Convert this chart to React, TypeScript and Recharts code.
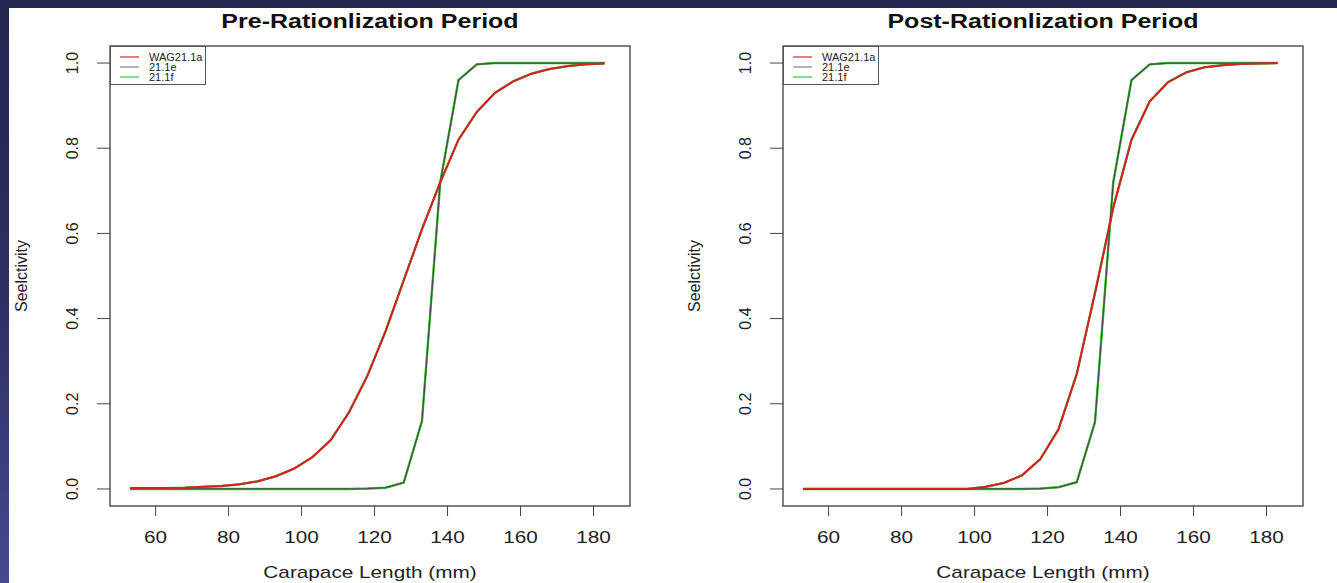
import { Line, LineChart, ReferenceArea, XAxis, YAxis } from 'recharts';

// carapace length classes (mm)
const lengths = [53, 58, 63, 68, 73, 78, 83, 88, 93, 98, 103, 108, 113, 118, 123, 128, 133, 138, 143, 148, 153, 158, 163, 168, 173, 178, 183];

// pre-rationalization selectivity
const preLogistic = [0.002, 0.002, 0.002, 0.003, 0.005, 0.007, 0.011, 0.018, 0.03, 0.048, 0.075, 0.115, 0.18, 0.265, 0.37, 0.49, 0.61, 0.72, 0.82, 0.885, 0.93, 0.957, 0.975, 0.986, 0.993, 0.997, 0.999];
const preKnife = [0, 0, 0, 0, 0, 0, 0, 0, 0, 0, 0, 0, 0, 0.001, 0.003, 0.015, 0.16, 0.72, 0.96, 0.997, 1, 1, 1, 1, 1, 1, 1];

// post-rationalization selectivity
const postLogistic = [0, 0, 0, 0, 0, 0, 0, 0, 0, 0, 0.005, 0.014, 0.032, 0.07, 0.14, 0.27, 0.46, 0.66, 0.82, 0.91, 0.955, 0.978, 0.99, 0.995, 0.998, 0.999, 1];
const postKnife = [0, 0, 0, 0, 0, 0, 0, 0, 0, 0, 0, 0, 0, 0.001, 0.004, 0.016, 0.157, 0.72, 0.96, 0.997, 1, 1, 1, 1, 1, 1, 1];

const yTicks = [0, 0.2, 0.4, 0.6, 0.8, 1];
const xTicks = [60, 80, 100, 120, 140, 160, 180];

const legendItems = [
  { name: 'WAG21.1a', color: '#e0202e' },
  { name: '21.1e', color: '#808080' },
  { name: '21.1f', color: '#33cc33' },
];

const FONT = '"Liberation Sans", Arial, sans-serif';
const X_DOMAIN: [number, number] = [47.5, 190];
const Y_DOMAIN: [number, number] = [-0.04, 1.04];

type Row = { len: number; smooth: number; knife: number };

function YTick({ x, y, payload }: { x?: number; y?: number; payload?: { value: number } }) {
  const tx = (x ?? 0) - 10;
  const ty = y ?? 0;
  return (
    <text
      x={tx}
      y={ty}
      transform={`rotate(-90 ${tx} ${ty})`}
      textAnchor="middle"
      dominantBaseline="central"
      fontSize={16}
      fontFamily={FONT}
      fill="#222"
    >
      {(payload?.value ?? 0).toFixed(1)}
    </text>
  );
}

function XTick({ x, y, payload }: { x?: number; y?: number; payload?: { value: number } }) {
  const tx = x ?? 0;
  const ty = (y ?? 0) + 7;
  // the source image is stretched sideways, so the labels are widened a bit
  return (
    <text
      x={0}
      y={0}
      transform={`translate(${tx} ${ty}) scale(1.22 1)`}
      textAnchor="middle"
      dominantBaseline="central"
      fontSize={17}
      fontFamily={FONT}
      fill="#222"
    >
      {payload?.value}
    </text>
  );
}

function PanelLegend() {
  return (
    <div
      style={{
        position: 'absolute',
        left: 110,
        top: 46,
        width: 96,
        height: 39,
        border: '1px solid #555',
        background: '#fff',
        fontFamily: FONT,
        fontSize: 11,
        lineHeight: '10px',
        paddingTop: 5,
        boxSizing: 'border-box',
      }}
    >
      {legendItems.map((it) => (
        <div key={it.name} style={{ display: 'flex', alignItems: 'center', height: 10 }}>
          <svg width={19} height={4} style={{ marginLeft: 9, marginRight: 10, flex: 'none' }}>
            <line x1={0} x2={19} y1={2} y2={2} stroke={it.color} strokeWidth={1.2} />
          </svg>
          <span style={{ color: '#222' }}>{it.name}</span>
        </div>
      ))}
    </div>
  );
}

function Panel({ title, smooth, knife, left }: { title: string; smooth: number[]; knife: number[]; left: number }) {
  const data: Row[] = lengths.map((len, i) => ({ len, smooth: smooth[i], knife: knife[i] }));
  const common = { type: 'linear' as const, dot: false, isAnimationActive: false, activeDot: false };

  return (
    <div style={{ position: 'absolute', left, top: 0, width: 660, height: 583 }}>
      <div
        style={{
          position: 'absolute',
          left: 110,
          width: 520,
          top: 10,
          textAlign: 'center',
          fontFamily: FONT,
          fontWeight: 'bold',
          fontSize: 20,
          color: '#111',
          transform: 'scaleX(1.25)',
        }}
      >
        {title}
      </div>
      <LineChart width={660} height={583} data={data} margin={{ top: 46, right: 30, left: 0, bottom: 0 }}>
        <XAxis
          dataKey="len"
          type="number"
          domain={X_DOMAIN}
          ticks={xTicks}
          allowDataOverflow
          axisLine={false}
          tickSize={10}
          tickMargin={14}
          height={77}
          tickLine={{ stroke: '#444' }}
          tick={<XTick />}
        />
        <YAxis
          type="number"
          domain={Y_DOMAIN}
          ticks={yTicks}
          allowDataOverflow
          axisLine={false}
          width={110}
          tickSize={13}
          tickMargin={14}
          tickLine={{ stroke: '#444' }}
          tick={<YTick />}
        />
        <ReferenceArea x1={X_DOMAIN[0]} x2={X_DOMAIN[1]} y1={Y_DOMAIN[0]} y2={Y_DOMAIN[1]} fill="none" stroke="#555" strokeWidth={1.5} />
        <Line {...common} dataKey="knife" stroke={legendItems[0].color} strokeWidth={1.5} />
        <Line {...common} dataKey="smooth" stroke={legendItems[1].color} strokeWidth={1.5} />
        <Line {...common} dataKey="knife" stroke={legendItems[2].color} strokeWidth={2.4} />
        <Line {...common} dataKey="smooth" stroke={legendItems[2].color} strokeWidth={2.3} />
        <Line {...common} dataKey="knife" stroke="#4a4a4a" strokeWidth={1.2} />
        <Line {...common} dataKey="smooth" stroke="#dd1c26" strokeWidth={2} />
      </LineChart>
      <PanelLegend />
      <div
        style={{
          position: 'absolute',
          left: 110,
          width: 520,
          top: 563,
          textAlign: 'center',
          fontFamily: FONT,
          fontSize: 17,
          color: '#222',
          transform: 'scaleX(1.22)',
        }}
      >
        Carapace Length (mm)
      </div>
      <div
        style={{
          position: 'absolute',
          left: 22,
          top: 276,
          transform: 'translate(-50%, -50%) rotate(-90deg)',
          fontFamily: FONT,
          fontSize: 16,
          color: '#222',
          whiteSpace: 'nowrap',
        }}
      >
        Seelctivity
      </div>
    </div>
  );
}

export default function App() {
  return (
    <div
      style={{
        position: 'absolute',
        left: 0,
        top: 0,
        width: 1337,
        height: 583,
        overflow: 'hidden',
        background: 'linear-gradient(180deg, #23264e 0%, #2c2f62 50%, #45498f 100%)',
      }}
    >
      <div style={{ position: 'absolute', left: 0, right: 0, top: 0, height: 8, background: '#23264e' }} />
      <div style={{ position: 'absolute', left: 9, top: 8, right: 0, bottom: 0, background: '#fff' }} />
      <Panel title="Pre-Rationlization Period" smooth={preLogistic} knife={preKnife} left={0} />
      <Panel title="Post-Rationlization Period" smooth={postLogistic} knife={postKnife} left={673} />
    </div>
  );
}
